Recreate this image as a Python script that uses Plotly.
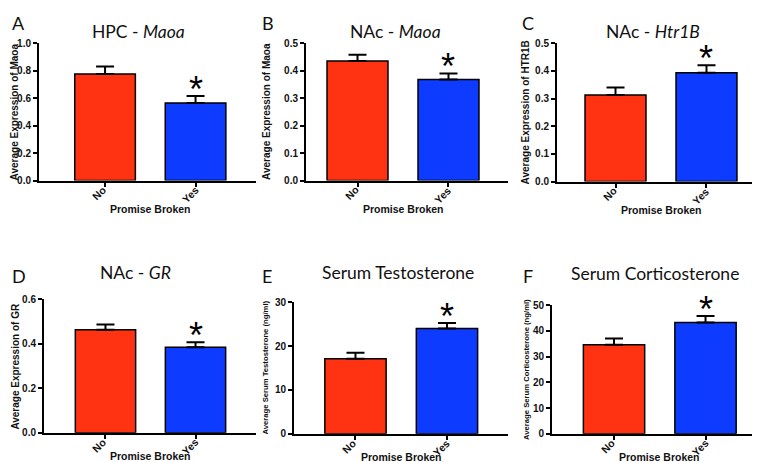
import plotly.graph_objects as go

W, H = 760, 462

categories = ["No", "Yes"]

panel_letters = ["A", "B", "C", "D", "E", "F"]
panel_titles = ["HPC - <i>Maoa</i>", "NAc - <i>Maoa</i>", "NAc - <i>Htr1B</i>",
                "NAc - <i>GR</i>", "Serum Testosterone", "Serum Corticosterone"]
y_titles = ["Average Expression of Maoa", "Average Expression of Maoa",
            "Average Expression of HTR1B", "Average Expression of GR",
            "Average Serum Testosterone (ng/ml)", "Average Serum Corticosterone (ng/ml)"]
x_title = "Promise Broken"

means_A = [0.775, 0.565]
sem_A = [0.055, 0.05]
means_B = [0.435, 0.368]
sem_B = [0.023, 0.022]
means_C = [0.313, 0.393]
sem_C = [0.027, 0.027]
means_D = [0.463, 0.385]
sem_D = [0.024, 0.022]
means_E = [17.1, 24.0]
sem_E = [1.4, 1.3]
means_F = [34.6, 43.3]
sem_F = [2.5, 2.5]

y_ticks_A = [0.0, 0.2, 0.4, 0.6, 0.8, 1.0]
y_ticks_B = [0.0, 0.1, 0.2, 0.3, 0.4, 0.5]
y_ticks_C = [0.0, 0.1, 0.2, 0.3, 0.4, 0.5]
y_ticks_D = [0.0, 0.2, 0.4, 0.6]
y_ticks_E = [0, 10, 20, 30]
y_ticks_F = [0, 10, 20, 30, 40, 50]

significant = ["Yes", "Yes", "Yes", "Yes", "Yes", "Yes"]

bar_colors = ["#FF3311", "#0D3BFF"]

means = [means_A, means_B, means_C, means_D, means_E, means_F]
sems = [sem_A, sem_B, sem_C, sem_D, sem_E, sem_F]
yticks = [y_ticks_A, y_ticks_B, y_ticks_C, y_ticks_D, y_ticks_E, y_ticks_F]
tickfmt = [".1f", ".1f", ".1f", ".1f", "d", "d"]

# layout geometry in pixels: (x_left, x_right, y_top, y_bottom), x range
geom = [
    (31, 248, 30, 171, [-0.73, 1.668]),
    (298, 500, 30, 171, [-0.566, 1.654]),
    (549, 758, 30, 172, [-0.643, 1.654]),
    (36, 248, 293, 430, [-0.683, 1.672]),
    (286, 500, 296, 431, [-0.672, 1.667]),
    (544, 758, 299, 431, [-0.678, 1.661]),
]
title_pos = [(130, 18), (387, 18), (645, 18), (127, 265), (390, 265), (647, 266)]
letter_pos = [(2, 9), (252, 9), (512, 9), (2, 269), (252, 269), (513, 269)]
ytitle_x = [6.5, 259, 517, 7.5, 257.5, 518.5]
ytitle_size = [10, 10, 10, 10, 7.7, 7.7]
xtitle_shift = [-28, -28, -28, -23.5, -23.5, -23.5]

fig = go.Figure()
annotations = []
font_bold = "Liberation Sans"
txt_col = "#111"

for i in range(6):
    xl, xr, yt, yb, xr_range = geom[i]
    suffix = "" if i == 0 else str(i + 1)
    xa = "x" + suffix
    ya = "y" + suffix
    m = means[i]
    s = sems[i]
    fig.add_trace(go.Bar(
        x=categories, y=m,
        marker=dict(color=bar_colors, line=dict(color="black", width=1.5)),
        width=0.67,
        error_y=dict(type="data", array=s, arrayminus=[0, 0], symmetric=False,
                     color="black", thickness=2, width=9),
        xaxis=xa, yaxis=ya, showlegend=False, hoverinfo="x+y",
    ))
    ymax = yticks[i][-1]
    fig.layout["xaxis" + suffix] = dict(
        domain=[xl / W, xr / W], anchor=ya, range=xr_range,
        showline=True, linecolor="black", linewidth=2,
        ticks="outside", ticklen=4, tickwidth=1.5, tickcolor="black",
        showticklabels=False, showgrid=False, zeroline=False,
    )
    fig.layout["yaxis" + suffix] = dict(
        domain=[1 - yb / H, 1 - yt / H], anchor=xa, range=[0, ymax],
        showline=True, linecolor="black", linewidth=2,
        ticks="outside", ticklen=4, tickwidth=1.5, tickcolor="black",
        tickvals=yticks[i], tickformat=tickfmt[i], showgrid=False, zeroline=False,
        tickfont=dict(family=font_bold, size=10, color=txt_col, weight="bold"),
    )
    # rotated category labels
    for c, dy in zip(categories, [-12.5, -14]):
        annotations.append(dict(
            x=c, y=0, xref=xa, yref=ya, text=c, showarrow=False, textangle=-45,
            xanchor="center", yanchor="middle", xshift=-6, yshift=dy,
            font=dict(family=font_bold, size=10.5, color=txt_col, weight="bold"),
        ))
    # x axis title
    annotations.append(dict(
        x=0.5, y=0, xref=xa, yref=ya, text=x_title, showarrow=False,
        xanchor="center", yanchor="middle", yshift=xtitle_shift[i], borderpad=0,
        font=dict(family=font_bold, size=10.5, color=txt_col, weight="bold"),
    ))
    # y axis title
    annotations.append(dict(
        x=ytitle_x[i] / W, y=1 - (yt + yb) / 2 / H, xref="paper", yref="paper",
        text=y_titles[i], showarrow=False, textangle=-90,
        xanchor="center", yanchor="middle",
        font=dict(family=font_bold, size=ytitle_size[i], color=txt_col, weight="bold"),
    ))
    # significance asterisk
    k = categories.index(significant[i])
    annotations.append(dict(
        x=significant[i], y=m[k] + s[k], xref=xa, yref=ya,
        text="*", showarrow=False, yanchor="bottom", yshift=-16,
        font=dict(family=font_bold, size=36, color="black"),
    ))
    tx, ty = title_pos[i]
    annotations.append(dict(
        x=tx / W, y=1 - ty / H, xref="paper", yref="paper", text=panel_titles[i],
        showarrow=False, xanchor="center", yanchor="middle",
        font=dict(family="Lato", size=17.5, color=txt_col),
    ))
    lx, ly = letter_pos[i]
    annotations.append(dict(
        x=lx / W, y=1 - ly / H, xref="paper", yref="paper", text=panel_letters[i],
        showarrow=False, xanchor="left", yanchor="middle",
        font=dict(family="Lato", size=18, color=txt_col),
    ))

fig.update_layout(
    width=W, height=H, margin=dict(l=0, r=0, t=0, b=0),
    paper_bgcolor="white", plot_bgcolor="white",
    annotations=annotations, bargap=0.33,
)

fig.write_html("out.html")
